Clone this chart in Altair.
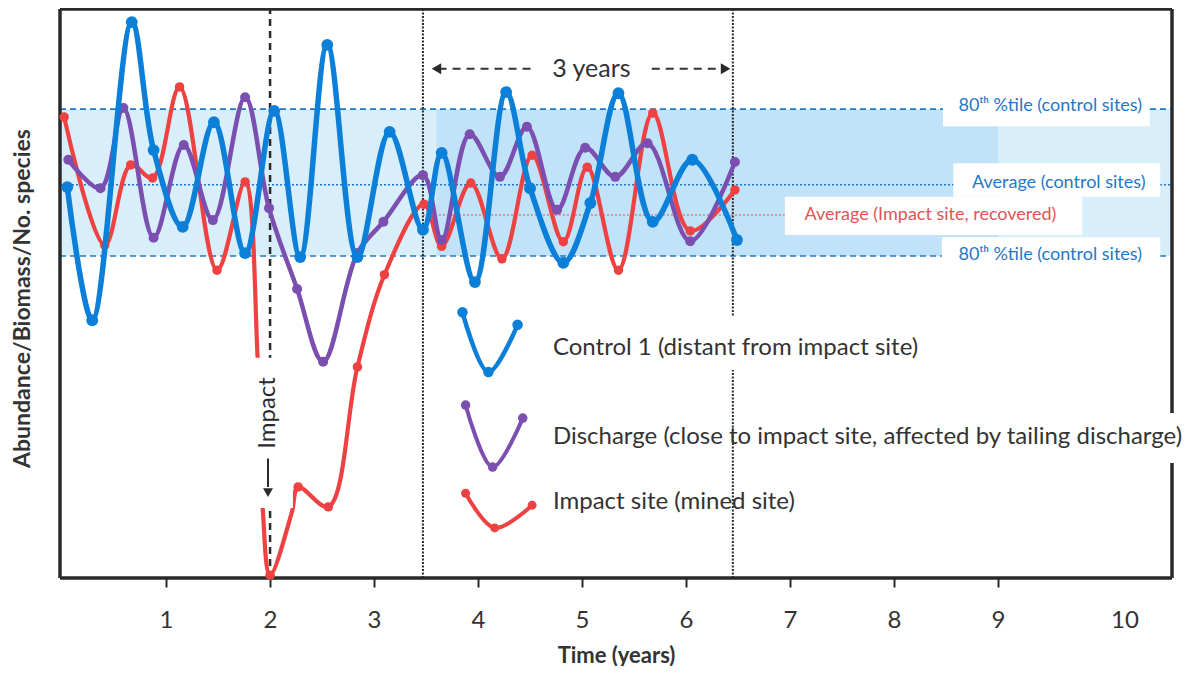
import altair as alt
import pandas as pd

FONT = "Lato"
BLUE = "#0c7fd8"
PURPLE = "#7b4fb0"
RED = "#ee4242"
BANDBLUE = "#1f78c8"
INK = "#2a2a2a"

XMIN, XMAX = -0.02, 10.673
YMIN, YMAX = 0, 100

# ---- series ----
blue_x = [0.05, 0.29, 0.67, 0.88, 1.16, 1.46, 1.76, 2.04, 2.29, 2.55, 2.84, 3.15, 3.47,
          3.65, 3.97, 4.27, 4.50, 4.82, 5.08, 5.35, 5.68, 6.06, 6.49]
blue_y = [68.7, 45.3, 97.7, 75.2, 61.7, 80.1, 57.1, 82.1, 56.4, 93.7, 56.4, 78.4, 61.2,
          74.7, 52.0, 85.4, 68.5, 55.4, 65.9, 85.2, 62.6, 73.5, 59.4]

purple_x = [0.06, 0.37, 0.59, 0.88, 1.17, 1.45, 1.76, 1.99, 2.26, 2.51, 2.84, 3.09, 3.47,
            3.65, 3.92, 4.21, 4.47, 4.76, 5.03, 5.32, 5.63, 6.04, 6.47]
purple_y = [73.5, 68.5, 82.6, 59.8, 76.1, 62.9, 84.5, 65.0, 50.8, 38.0, 57.1, 62.6, 70.8,
            59.4, 78.0, 70.5, 79.3, 64.7, 75.6, 70.5, 76.4, 59.2, 73.1]

red_x = [0.02, 0.41, 0.66, 0.87, 1.13, 1.49, 1.76, 1.88, 1.93, 2.00, 2.21, 2.27, 2.56,
         2.84, 3.10, 3.48, 3.65, 3.93, 4.23, 4.52, 4.82, 5.05, 5.35, 5.68, 6.04, 6.47]
red_y = [81.0, 58.5, 72.6, 70.3, 86.3, 54.1, 69.6, 38.8, 12.0, 0.5, 11.6, 16.0, 12.5,
         37.1, 53.3, 65.7, 58.3, 69.4, 56.1, 74.3, 59.1, 72.2, 54.1, 81.7, 61.0, 68.2]
red_marked = [1, 1, 1, 1, 1, 1, 1, 0, 0, 1, 0, 1, 1,
              1, 1, 1, 1, 1, 1, 1, 1, 1, 1, 1, 1, 1]

# reference levels (control sites) and recovered impact-site average
band_upper = 82.4
band_lower = 56.6
avg_control = 69.1
avg_impact = 63.8

# time markers
impact_time = 2.0
window_start = 3.47
window_end = 6.45

x_ticks = [1, 2, 3, 4, 5, 6, 7, 8, 9]

# legend glyphs (small V shapes)
leg_blue_x, leg_blue_y = [3.85, 4.10, 4.38], [46.7, 36.2, 44.5]
leg_purple_x, leg_purple_y = [3.88, 4.14, 4.43], [30.4, 19.5, 28.1]
leg_red_x, leg_red_y = [3.88, 4.16, 4.52], [14.9, 8.8, 12.8]
legend_labels = ["Control 1 (distant from impact site)",
                 "Discharge (close to impact site, affected by tailing discharge)",
                 "Impact site (mined site)"]
legend_label_y = [40.4, 24.8, 13.4]

xscale = alt.Scale(domain=[XMIN, XMAX], nice=False, zero=False)
yscale = alt.Scale(domain=[YMIN, YMAX], nice=False, zero=False)
xaxis = alt.Axis(values=x_ticks, title="Time (years)", grid=False, domain=False,
                 tickSize=9, tickWidth=2, tickColor=INK, labelFontSize=24,
                 labelFont=FONT, labelColor="#333", labelPadding=21,
                 titleFont=FONT, titleFontSize=22, titleFontWeight="bold",
                 titleColor="#333", titleY=77, titleBaseline="middle")
yaxis = alt.Axis(title="Abundance/Biomass/No. species", labels=False, ticks=False,
                 domain=False, grid=False, titleFont=FONT, titleFontSize=23,
                 titleFontWeight="bold", titleColor="#333", titleX=-38, titleY=289,
                 titleAngle=270, titleBaseline="middle", titleAlign="center")
X = alt.X("x:Q", scale=xscale, axis=xaxis)
Y = alt.Y("y:Q", scale=yscale, axis=yaxis)


def rect(x, x2, y, y2, color, opacity=1.0):
    df = pd.DataFrame({"x": [x], "x2": [x2], "y": [y], "y2": [y2]})
    return alt.Chart(df).mark_rect(color=color, opacity=opacity).encode(
        x=X, x2="x2:Q", y=Y, y2="y2:Q")


def hline(x, x2, y, color, width, dash=None):
    df = pd.DataFrame({"x": [x], "x2": [x2], "y": [y]})
    kw = dict(color=color, strokeWidth=width)
    if dash:
        kw["strokeDash"] = dash
    return alt.Chart(df).mark_rule(**kw).encode(x=X, x2="x2:Q", y=Y)


def vline(x, y, y2, color, width, dash=None):
    df = pd.DataFrame({"x": [x], "y": [y], "y2": [y2]})
    kw = dict(color=color, strokeWidth=width)
    if dash:
        kw["strokeDash"] = dash
    return alt.Chart(df).mark_rule(**kw).encode(x=X, y=Y, y2="y2:Q")


def text(x, y, s, size, color="#333", align="center", angle=0, weight="normal"):
    df = pd.DataFrame({"x": [x], "y": [y], "t": [s]})
    kw = dict(font=FONT, fontSize=size, color=color, align=align, baseline="middle",
              fontWeight=weight)
    if angle:
        kw["angle"] = angle
    return alt.Chart(df).mark_text(**kw).encode(x=X, y=Y, text="t:N")


def series(xs, ys, color, width, size, marked=None):
    df = pd.DataFrame({"x": xs, "y": ys,
                       "m": marked if marked is not None else [1] * len(xs)})
    base = alt.Chart(df)
    line = base.mark_line(interpolate="catmull-rom", color=color, strokeWidth=width,
                          strokeCap="round", strokeJoin="round").encode(x=X, y=Y)
    pts = base.transform_filter("datum.m == 1").mark_circle(
        color=color, size=size, opacity=1).encode(x=X, y=Y)
    return [line, pts]


def tri(x, y, shape, size):
    df = pd.DataFrame({"x": [x], "y": [y]})
    return alt.Chart(df).mark_point(shape=shape, filled=True, size=size, color=INK,
                                    opacity=1).encode(x=X, y=Y)


layers = []
# control band
layers.append(rect(XMIN, XMAX, band_lower, band_upper, "#d8eefb"))
layers.append(rect(3.6, 9.0, band_lower, band_upper, "#b8dff8", 0.75))
layers.append(hline(XMIN, XMAX, band_upper, BANDBLUE, 1.6, [6, 4]))
layers.append(hline(XMIN, XMAX, band_lower, BANDBLUE, 1.6, [6, 4]))
layers.append(hline(XMIN, XMAX, avg_control, BANDBLUE, 1.6, [2, 2]))
layers.append(hline(window_start, 7.0, avg_impact, "#e37a7a", 1.4, [2, 2]))
# white label boxes
layers.append(rect(8.47, 10.46, 79.4, 84.7, "white"))
layers.append(rect(8.57, 10.56, 67.0, 72.9, "white"))
layers.append(rect(6.95, 9.81, 60.3, 67.0, "white"))
layers.append(rect(8.46, 10.56, 53.3, 59.9, "white"))
layers.append(text(8.62, 82.9, "80ᵗʰ %tile (control sites)", 18, BANDBLUE, "left"))
layers.append(text(8.75, 69.4, "Average (control sites)", 18, BANDBLUE, "left"))
layers.append(text(7.14, 63.8, "Average (Impact site, recovered)", 18, "#e05555", "left"))
layers.append(text(8.62, 56.8, "80ᵗʰ %tile (control sites)", 18, BANDBLUE, "left"))
# vertical markers
layers.append(vline(impact_time, YMIN, YMAX, INK, 2.5, [7, 5]))
layers.append(vline(window_start, YMIN, YMAX, INK, 2, [2, 1.5]))
layers.append(vline(window_end, YMIN, YMAX, INK, 2, [2, 1.5]))
# frame
layers.append(hline(XMIN, XMAX, YMAX, INK, 3.5))
layers.append(hline(XMIN, XMAX, YMIN, INK, 3.5))
layers.append(vline(XMIN, YMIN, YMAX, INK, 3.5))
layers.append(vline(XMAX, YMIN, YMAX, INK, 3.5))
# data series
layers += series(red_x, red_y, RED, 4.2, 90, red_marked)
layers += series(purple_x, purple_y, PURPLE, 4.5, 100)
layers += series(blue_x, blue_y, BLUE, 5.5, 140)
# white boxes behind annotations
layers.append(rect(1.81, 2.22, 12.3, 38.7, "white"))
layers.append(rect(4.64, 8.39, 36.6, 45.9, "white"))
layers.append(rect(10.46, 10.85, 20.2, 29.0, "white"))
# "Impact" annotation
layers.append(text(1.98, 29.0, "Impact", 24, INK, "center", 270))
layers.append(vline(1.98, 21.0, 16.0, INK, 2))
layers.append(tri(1.98, 15.0, "triangle-down", 100))
# "3 years" annotation
layers.append(hline(3.62, 4.52, 89.5, "#333", 2, [8, 6]))
layers.append(hline(5.67, 6.36, 89.5, "#333", 2, [8, 6]))
layers.append(tri(3.60, 89.5, "triangle-left", 120))
layers.append(tri(6.38, 89.5, "triangle-right", 120))
layers.append(text(5.09, 89.5, "3 years", 25, "#333"))
# legend
layers += series(leg_blue_x, leg_blue_y, BLUE, 4.5, 110)
layers += series(leg_purple_x, leg_purple_y, PURPLE, 4, 90)
layers += series(leg_red_x, leg_red_y, RED, 4, 80)
for lab, ly in zip(legend_labels, legend_label_y):
    layers.append(text(4.72, ly, lab, 24, "#333", "left"))
# last x tick label (no tick mark in the original)
layers.append(text(10.22, -7.6, "10", 24, "#333"))

chart = alt.layer(*layers).properties(
    width=1112, height=569,
    padding={"left": 52, "top": 1, "right": 24, "bottom": 88},
    autosize=alt.AutoSizeParams(type="none"),
).configure_view(stroke=None)

chart.save("out.html", embed_options={"renderer": "svg", "actions": False})
